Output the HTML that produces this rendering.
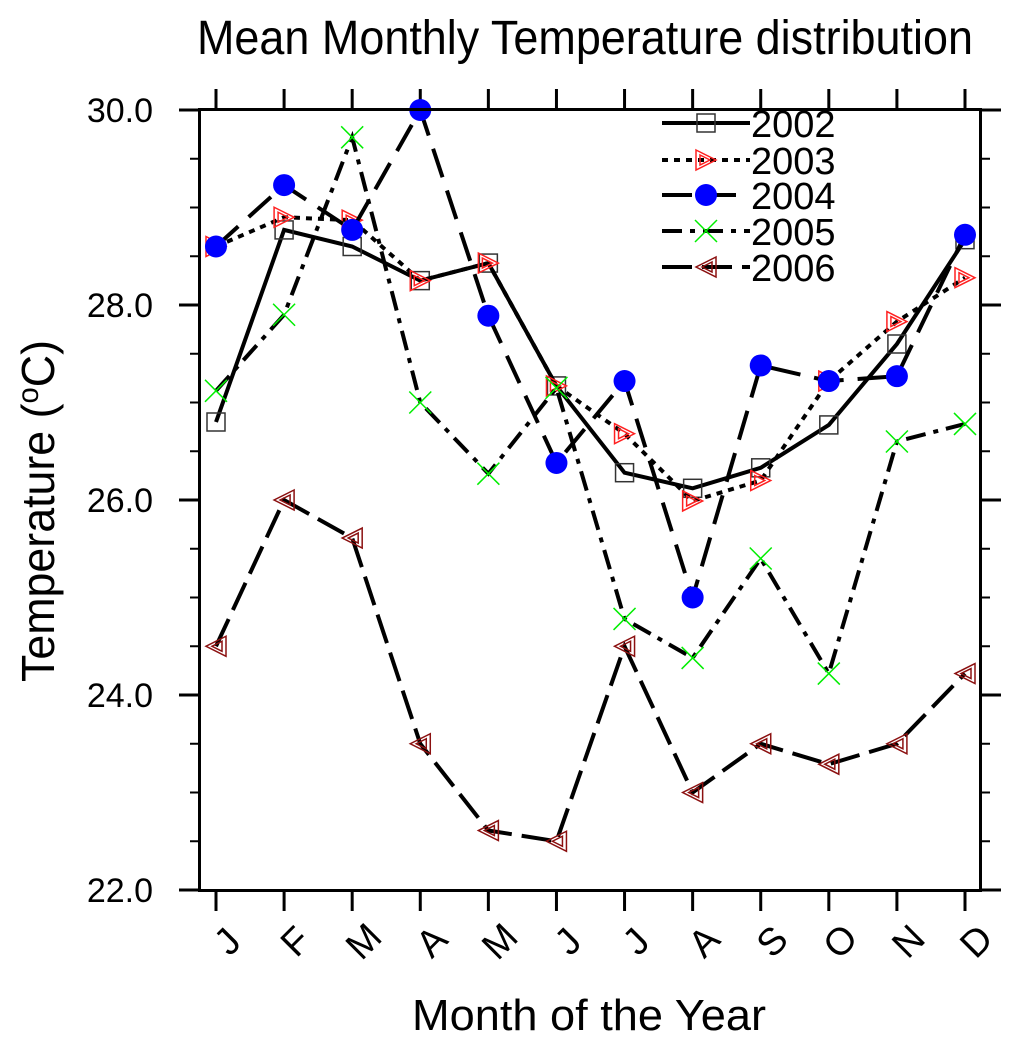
<!DOCTYPE html>
<html><head><meta charset="utf-8"><style>
html,body{margin:0;padding:0;background:#fff;}
svg{display:block;font-family:"Liberation Sans",sans-serif;}
</style></head><body>
<svg id="chart" width="1024" height="1052" viewBox="0 0 1024 1052" xmlns="http://www.w3.org/2000/svg">
<text x="197" y="54" font-size="48" textLength="776" lengthAdjust="spacingAndGlyphs">Mean Monthly Temperature distribution</text>
<text x="412" y="1030" font-size="44" textLength="354" lengthAdjust="spacingAndGlyphs">Month of the Year</text>
<text transform="translate(54,682) rotate(-90)" font-size="46" textLength="342" lengthAdjust="spacingAndGlyphs">Temperature (<tspan font-size="30" dy="-16">o</tspan><tspan dy="16">C)</tspan></text>
<g id="axes"></g>
<g id="series"></g>
<g id="legend"></g>
<rect x="199.5" y="109.5" width="781" height="781" fill="none" stroke="#000" stroke-width="3"/>
</svg>
<script>
const months = ["J","F","M","A","M","J","J","A","S","O","N","D"];
const yTicks = [22,24,26,28,30];
const yTickLabels = ["22.0","24.0","26.0","28.0","30.0"];
const seriesNames = ["2002","2003","2004","2005","2006"];
const s2002 = [26.8,28.77,28.6,28.25,28.43,27.17,26.28,26.12,26.33,26.77,27.6,28.67];
const s2003 = [28.6,28.9,28.87,28.25,28.43,27.17,26.68,25.99,26.2,27.22,27.83,28.28];
const s2004 = [28.6,29.23,28.77,30.0,27.89,26.38,27.22,25.0,27.38,27.22,27.27,28.72];
const s2005 = [27.12,27.9,29.72,27.0,26.27,27.15,24.78,24.38,25.4,24.22,26.6,26.78];
const s2006 = [24.5,26.0,25.61,23.5,22.61,22.5,24.5,23.0,23.5,23.29,23.5,24.22];

const NS="http://www.w3.org/2000/svg";
const L=200,R=980,T=110,B=890,YMIN=22,YMAX=30;
const xS=i=>216+i*(965-216)/11;
const yS=v=>B-(v-YMIN)/(YMAX-YMIN)*(B-T);
function mk(tag,attrs,parent){const e=document.createElementNS(NS,tag);for(const k in attrs)e.setAttribute(k,attrs[k]);parent.appendChild(e);return e;}
const axes=document.getElementById('axes');
for(let v=YMIN;v<=YMAX+0.001;v+=0.5){
  const major=Math.abs(v-Math.round(v/2)*2)<0.01;
  const len=major?21:10;
  let t=mk('line',{x1:L-len,x2:L,y1:yS(v),y2:yS(v),stroke:'#000','stroke-width':major?3:2},axes);
  
  
  t=mk('line',{x1:R,x2:R+len,y1:yS(v),y2:yS(v),stroke:'#000','stroke-width':major?3:2},axes);
  
  
}
yTicks.forEach((v,i)=>{
  const t=mk('text',{x:153,y:yS(v)+12,'font-size':34,'text-anchor':'end'},axes);
  t.textContent=yTickLabels[i];
  
  
});
months.forEach((m,i)=>{
  const x=xS(i);
  let t=mk('line',{x1:x,x2:x,y1:B,y2:B+21,stroke:'#000','stroke-width':3},axes);
  
  
  t=mk('line',{x1:x,x2:x,y1:T-21,y2:T,stroke:'#000','stroke-width':3},axes);
  
  
  const lb=mk('text',{transform:`translate(${x+12},${942}) rotate(-45)`,'font-size':38,'text-anchor':'middle','dominant-baseline':'central'},axes);
  lb.textContent=m;
  
  
});
const styles=[
 {data:s2002,dash:'',marker:'square'},
 {data:s2003,dash:'6 6',marker:'tri-right'},
 {data:s2004,dash:'30 14',marker:'circle'},
 {data:s2005,dash:'20 8 5 8',marker:'x'},
 {data:s2006,dash:'30 10',marker:'tri-left'}
];
function marker(type,x,y,g){
  let e;
  if(type==='square'){e=mk('rect',{x:x-9,y:y-9,width:18,height:18,fill:'none',stroke:'#333','stroke-width':1.5},g);}
  else if(type==='circle'){e=mk('circle',{cx:x,cy:y,r:11,fill:'#0000ff'},g);}
  else if(type==='x'){e=mk('path',{d:`M${x-11} ${y-11}L${x+11} ${y+11}M${x+11} ${y-11}L${x-11} ${y+11}`,stroke:'#00ee00','stroke-width':1.5,fill:'none'},g);}
  else if(type==='tri-right'){e=mk('path',{d:`M${x-10} ${y-10}L${x+10} ${y}L${x-10} ${y+10}ZM${x-6} ${y-5}L${x+4} ${y}L${x-6} ${y+5}Z`,stroke:'#ff2020','stroke-width':1.5,fill:'none'},g);}
  else {e=mk('path',{d:`M${x+10} ${y-10}L${x-10} ${y}L${x+10} ${y+10}ZM${x+6} ${y-5}L${x-4} ${y}L${x+6} ${y+5}Z`,stroke:'#8b1010','stroke-width':1.5,fill:'none'},g);}
  return e;
}
const sg=document.getElementById('series');
styles.forEach((s,k)=>{
  const g=mk('g',{},sg);
  
  
  const pts=s.data.map((v,i)=>xS(i)+','+yS(v)).join(' ');
  const pl=mk('polyline',{points:pts,fill:'none',stroke:'#000','stroke-width':4,'stroke-dasharray':s.dash},g);
  
  
  s.data.forEach((v,i)=>{
    const m=marker(s.marker,xS(i),yS(v),g);
    
    
  });
});
const lg=document.getElementById('legend');


const rowsY=[123,160,195,231,267];
styles.forEach((s,k)=>{
  const y=rowsY[k];
  const g=mk('g',{},lg);
  
  
  mk('line',{x1:662,x2:750,y1:y,y2:y,stroke:'#000','stroke-width':4,'stroke-dasharray':s.dash},g);
  marker(s.marker,706,y,g);
  const t=mk('text',{x:751,y:y+14,'font-size':38},g);
  t.textContent=seriesNames[k];
});
</script>
</body></html>
